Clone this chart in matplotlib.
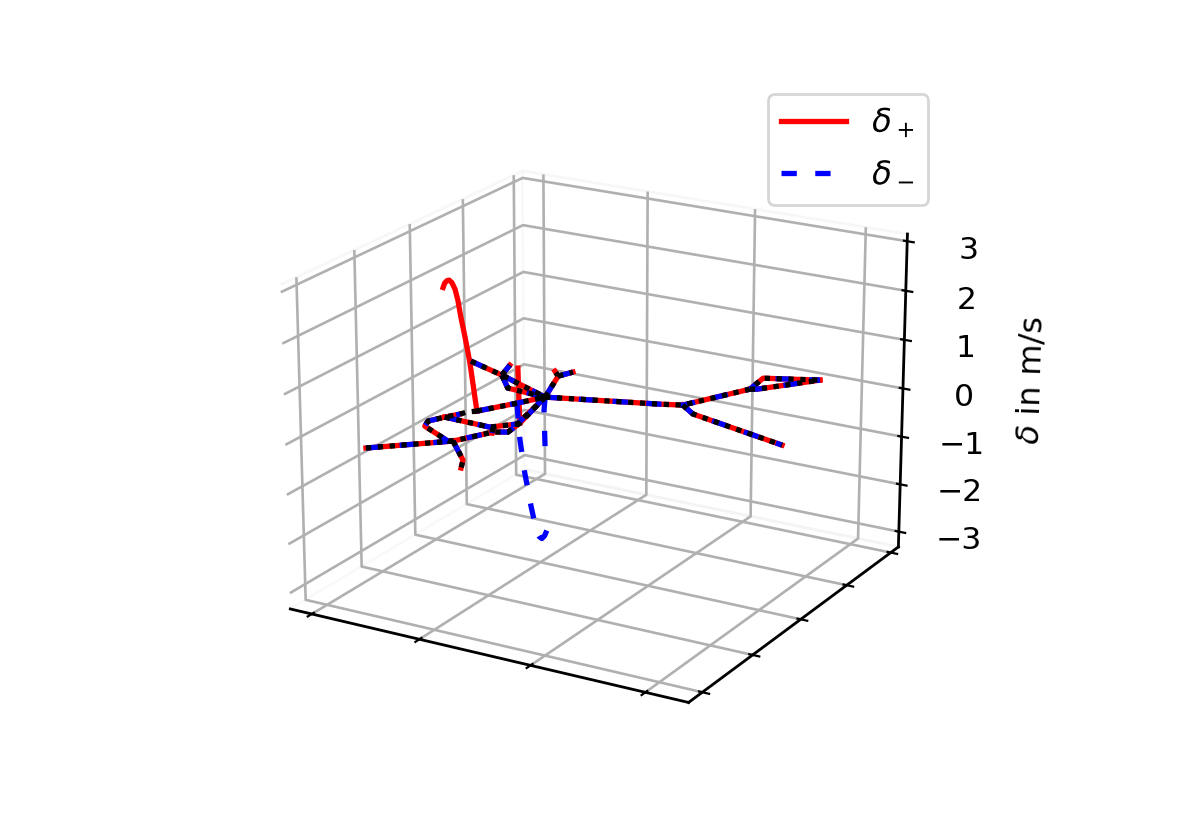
import matplotlib
matplotlib.use("Agg")
import matplotlib.pyplot as plt
import matplotlib.patheffects as pe

# network branches (x, y on the delta = 0 plane)
a_x = [0.162, 0.302, 0.348, 0.376, 0.369, 0.330]
a_y = [0.071, 0.202, 0.294, 0.310, 0.372, 0.546]
b_x = [0.302, 0.383, 0.405]
b_y = [0.202, 0.113, 0.070]
c1_x = [0.302, 0.293, 0.198, 0.187, 0.205, 0.224]
c1_y = [0.202, 0.196, 0.251, 0.282, 0.322, 0.356]
c_gap_x = [0.224, 0.230, 0.246]
c_gap_y = [0.356, 0.374, 0.391]
c2_x = [0.246, 0.296, 0.330]
c2_y = [0.391, 0.480, 0.546]
d_x = [0.205, 0.254, 0.325, 0.367, 0.330]
d_y = [0.322, 0.320, 0.317, 0.364, 0.546]
e_x = [0.331, 0.349]
e_y = [0.321, 0.287]
f_x = [0.056, 0.168, 0.330]
f_y = [0.672, 0.625, 0.546]
g_x = [0.168, 0.148]
g_y = [0.625, 0.693]
h_x = [0.168, 0.226, 0.330]
h_y = [0.625, 0.556, 0.546]
i_x = [0.330, 0.283, 0.259]
i_y = [0.546, 0.683, 0.709]
k_x = [0.283, 0.298]
k_y = [0.683, 0.724]
l_x = [0.330, 0.576, 0.623, 0.703, 0.694, 0.812]
l_y = [0.546, 0.634, 0.654, 0.823, 0.904, 0.957]
m_x = [0.703, 0.717, 0.812]
m_y = [0.823, 0.831, 0.957]
n_x = [0.623, 0.671, 0.933]
n_y = [0.654, 0.614, 0.537]

# excursions away from the plane
r1_x = [0.246, 0.229, 0.217, 0.207, 0.200, 0.193, 0.185, 0.178, 0.172, 0.166, 0.162]
r1_y = [0.391] * 11
r1_z = [0.00, 0.97, 1.47, 1.85, 2.17, 2.38, 2.50, 2.54, 2.52, 2.46, 2.37]
r2_x = [0.369, 0.367, 0.365]
r2_y = [0.372] * 3
r2_z = [0.00, 0.49, 1.10]
b1_x = [0.296, 0.303, 0.315, 0.331, 0.346, 0.352, 0.359, 0.366, 0.372]
b1_y = [0.480] * 9
b1_z = [0.00, -0.73, -1.40, -2.07, -2.60, -2.67, -2.70, -2.63, -2.51]
b2_x = [0.330, 0.327, 0.329, 0.329]
b2_y = [0.546] * 4
b2_z = [0.00, -0.27, -0.99, -1.14]

coloured = [(a_x, a_y), (b_x, b_y), (c1_x, c1_y), (c2_x, c2_y), (d_x, d_y),
            (e_x, e_y), (f_x, f_y), (g_x, g_y), (h_x, h_y), (i_x, i_y),
            (k_x, k_y), (l_x, l_y), (m_x, m_y), (n_x, n_y)]
black_only = [(c_gap_x, c_gap_y)]

x_ticks = [0.057, 0.337, 0.617, 0.897]
y_ticks = [0.06, 0.285, 0.51, 0.735, 0.96]
z_ticks = [-3, -2, -1, 0, 1, 2, 3]

fig = plt.figure(figsize=(5.92, 4.13), dpi=200)
ax = fig.add_axes([120/1184, 45/826, 942/1184, 702/826], projection='3d')
ax.view_init(elev=20, azim=-60)

lw = 1.9
dash = (0, (2.9, 3.5))
dots = (0, (1.0, 1.25))
for px, py in coloured:
    ax.plot(px, py, [0] * len(px), color='red', lw=lw)
ax.plot(r1_x, r1_y, r1_z, color='red', lw=lw, label=r'$\delta_+$')
ax.plot(r2_x, r2_y, r2_z, color='red', lw=lw)
for px, py in coloured:
    ax.plot(px, py, [0] * len(px), color='blue', lw=lw, ls=dash)
ax.plot(b1_x, b1_y, b1_z, color='blue', lw=lw, ls=dash, label=r'$\delta_-$')
ax.plot(b2_x, b2_y, b2_z, color='blue', lw=lw, ls=dash)
for px, py in coloured + black_only:
    ax.plot(px, py, [0] * len(px), color='black', lw=lw, ls=dots)

ax.set_xlim(0, 1)
ax.set_ylim(0, 1)
ax.set_zlim(-3.325, 3.145)
ax.set_xticks(x_ticks)
ax.set_yticks(y_ticks)
ax.set_zticks(z_ticks)
ax.set_xticklabels([])
ax.set_yticklabels([])
ax.tick_params(axis='z', labelsize=11.3, pad=5.5)
ax.set_zlabel(r'$\delta$ in m/s', fontsize=11.5, labelpad=8)
for axis in (ax.xaxis, ax.yaxis, ax.zaxis):
    axis.pane.set_facecolor('white')
    axis.pane.set_edgecolor('#f0f0f0')
    axis._axinfo['grid']['linewidth'] = 0.95
    axis.line.set_linewidth(1.0)

leg = ax.legend(loc='upper right', bbox_to_anchor=(928/1184, 1 - 94/826),
                bbox_transform=fig.transFigure, borderaxespad=0, fontsize=11.7,
                labelspacing=0.65)
# path rendering keeps the raised minus subscript from clipping the delta glyph
for t in leg.get_texts():
    t.set_path_effects([pe.Normal()])
fig.savefig('out.png')
